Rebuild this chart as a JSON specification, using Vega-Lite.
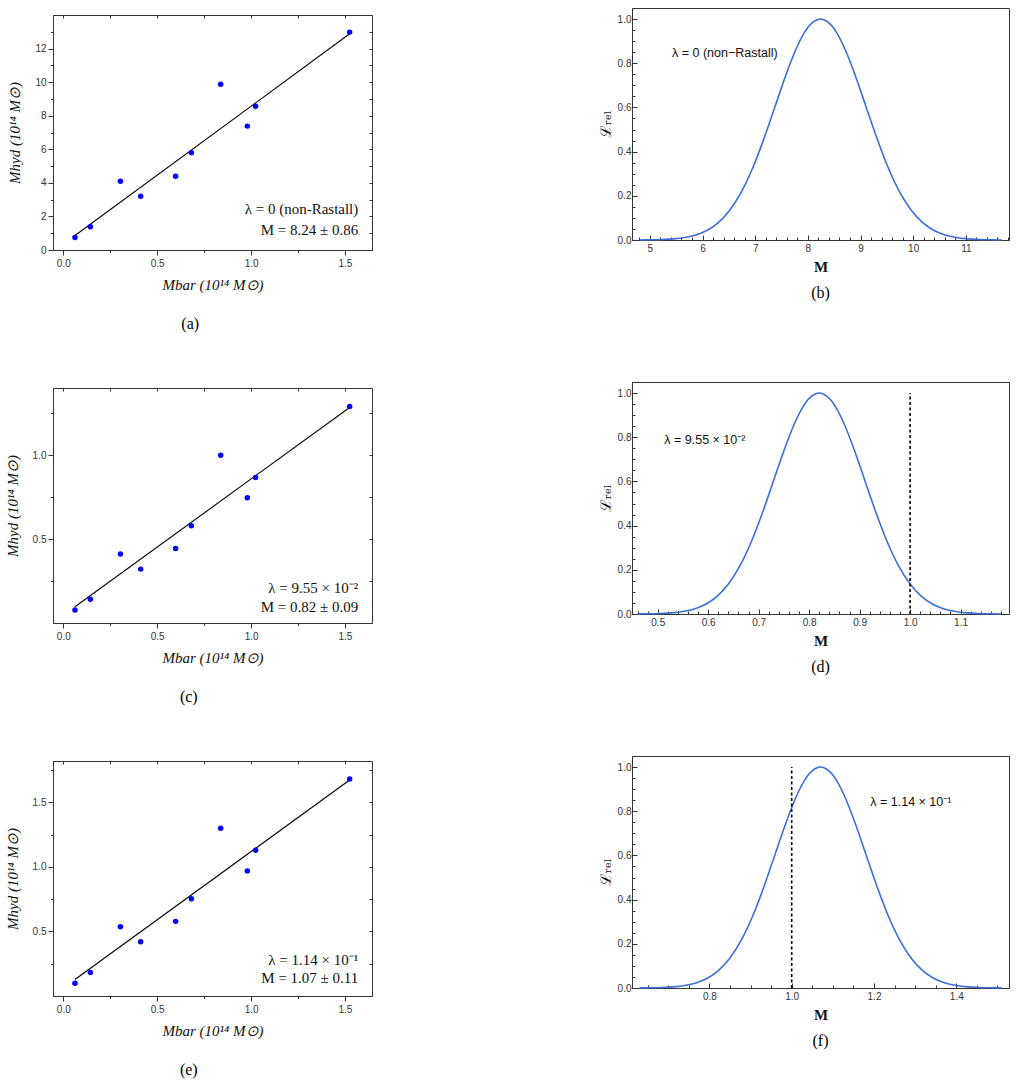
{
  "$schema": "https://vega.github.io/schema/vega-lite/v6.json",
  "background": "white",
  "padding": {"left": 4, "top": 7, "right": 2, "bottom": 0},
  "config": {
    "view": {"stroke": "#333", "strokeWidth": 1},
    "axis": {"grid": false, "labelFont": "Liberation Sans", "labelFontSize": 10, "labelColor": "#333", "domainColor": "#333", "tickColor": "#333", "labelOverlap": false, "titleColor": "#111"},
    "title": {"font": "Liberation Serif", "fontSize": 16, "fontWeight": "normal", "color": "#000"}
  },
  "datasets": {
    "clustersA": [
      {"mbar": 0.062, "mhyd": 0.74}, {"mbar": 0.144, "mhyd": 1.39}, {"mbar": 0.304, "mhyd": 4.09}, {"mbar": 0.412, "mhyd": 3.2}, {"mbar": 0.598, "mhyd": 4.39},
      {"mbar": 0.682, "mhyd": 5.8}, {"mbar": 0.838, "mhyd": 9.88}, {"mbar": 0.98, "mhyd": 7.38}, {"mbar": 1.024, "mhyd": 8.57}, {"mbar": 1.525, "mhyd": 12.98}
    ],
    "fitA": [{"mbar": 0.062, "mhyd": 0.86}, {"mbar": 1.525, "mhyd": 12.88}],
    "notesA": [{"mbar": 1.571, "mhyd": 2.46, "note": "λ = 0 (non-Rastall)"}, {"mbar": 1.571, "mhyd": 1.17, "note": "M = 8.24 ± 0.86"}],
    "clustersC": [
      {"mbar": 0.062, "mhyd": 0.077}, {"mbar": 0.144, "mhyd": 0.141}, {"mbar": 0.304, "mhyd": 0.411}, {"mbar": 0.412, "mhyd": 0.321}, {"mbar": 0.598, "mhyd": 0.444},
      {"mbar": 0.682, "mhyd": 0.579}, {"mbar": 0.838, "mhyd": 1.0}, {"mbar": 0.98, "mhyd": 0.746}, {"mbar": 1.024, "mhyd": 0.867}, {"mbar": 1.525, "mhyd": 1.29}
    ],
    "fitC": [{"mbar": 0.062, "mhyd": 0.097}, {"mbar": 1.525, "mhyd": 1.284}],
    "notesC": [{"mbar": 1.571, "mhyd": 0.206, "note": "λ = 9.55 × 10⁻²"}, {"mbar": 1.571, "mhyd": 0.097, "note": "M = 0.82 ± 0.09"}],
    "clustersE": [
      {"mbar": 0.062, "mhyd": 0.099}, {"mbar": 0.144, "mhyd": 0.182}, {"mbar": 0.304, "mhyd": 0.536}, {"mbar": 0.412, "mhyd": 0.42}, {"mbar": 0.598, "mhyd": 0.578},
      {"mbar": 0.682, "mhyd": 0.753}, {"mbar": 0.838, "mhyd": 1.299}, {"mbar": 0.98, "mhyd": 0.969}, {"mbar": 1.024, "mhyd": 1.129}, {"mbar": 1.525, "mhyd": 1.68}
    ],
    "fitE": [{"mbar": 0.062, "mhyd": 0.128}, {"mbar": 1.525, "mhyd": 1.673}],
    "notesE": [{"mbar": 1.571, "mhyd": 0.278, "note": "λ = 1.14 × 10⁻¹"}, {"mbar": 1.571, "mhyd": 0.136, "note": "M = 1.07 ± 0.11"}],
    "curveB": [
      {"m": 4.8, "L": 0.00034}, {"m": 5.015, "L": 0.00088}, {"m": 5.23, "L": 0.00219}, {"m": 5.445, "L": 0.00509}, {"m": 5.66, "L": 0.01111},
      {"m": 5.875, "L": 0.02279}, {"m": 6.09, "L": 0.04394}, {"m": 6.305, "L": 0.07956}, {"m": 6.52, "L": 0.13534}, {"m": 6.735, "L": 0.21627},
      {"m": 6.95, "L": 0.32465}, {"m": 7.165, "L": 0.45783}, {"m": 7.38, "L": 0.60653}, {"m": 7.595, "L": 0.75484}, {"m": 7.81, "L": 0.8825},
      {"m": 8.025, "L": 0.96923}, {"m": 8.24, "L": 1.0}, {"m": 8.455, "L": 0.96923}, {"m": 8.67, "L": 0.8825}, {"m": 8.885, "L": 0.75484},
      {"m": 9.1, "L": 0.60653}, {"m": 9.315, "L": 0.45783}, {"m": 9.53, "L": 0.32465}, {"m": 9.745, "L": 0.21627}, {"m": 9.96, "L": 0.13534},
      {"m": 10.175, "L": 0.07956}, {"m": 10.39, "L": 0.04394}, {"m": 10.605, "L": 0.02279}, {"m": 10.82, "L": 0.01111}, {"m": 11.035, "L": 0.00509},
      {"m": 11.25, "L": 0.00219}, {"m": 11.465, "L": 0.00088}, {"m": 11.68, "L": 0.00034}
    ],
    "notesB": [{"m": 5.42, "L": 0.847, "note": "λ = 0 (non−Rastall)"}],
    "curveD": [
      {"m": 0.46, "L": 0.00034}, {"m": 0.4825, "L": 0.00088}, {"m": 0.505, "L": 0.00219}, {"m": 0.5275, "L": 0.00509}, {"m": 0.55, "L": 0.01111},
      {"m": 0.5725, "L": 0.02279}, {"m": 0.595, "L": 0.04394}, {"m": 0.6175, "L": 0.07956}, {"m": 0.64, "L": 0.13534}, {"m": 0.6625, "L": 0.21627},
      {"m": 0.685, "L": 0.32465}, {"m": 0.7075, "L": 0.45783}, {"m": 0.73, "L": 0.60653}, {"m": 0.7525, "L": 0.75484}, {"m": 0.775, "L": 0.8825},
      {"m": 0.7975, "L": 0.96923}, {"m": 0.82, "L": 1.0}, {"m": 0.8425, "L": 0.96923}, {"m": 0.865, "L": 0.8825}, {"m": 0.8875, "L": 0.75484},
      {"m": 0.91, "L": 0.60653}, {"m": 0.9325, "L": 0.45783}, {"m": 0.955, "L": 0.32465}, {"m": 0.9775, "L": 0.21627}, {"m": 1.0, "L": 0.13534},
      {"m": 1.0225, "L": 0.07956}, {"m": 1.045, "L": 0.04394}, {"m": 1.0675, "L": 0.02279}, {"m": 1.09, "L": 0.01111}, {"m": 1.1125, "L": 0.00509},
      {"m": 1.135, "L": 0.00219}, {"m": 1.1575, "L": 0.00088}, {"m": 1.18, "L": 0.00034}
    ],
    "refD": [{"m": 1.0, "L0": 0, "L1": 1.0}],
    "notesD": [{"m": 0.513, "L": 0.788, "note": "λ = 9.55 × 10⁻²"}],
    "curveF": [
      {"m": 0.63, "L": 0.00034}, {"m": 0.6575, "L": 0.00088}, {"m": 0.685, "L": 0.00219}, {"m": 0.7125, "L": 0.00509}, {"m": 0.74, "L": 0.01111},
      {"m": 0.7675, "L": 0.02279}, {"m": 0.795, "L": 0.04394}, {"m": 0.8225, "L": 0.07956}, {"m": 0.85, "L": 0.13534}, {"m": 0.8775, "L": 0.21627},
      {"m": 0.905, "L": 0.32465}, {"m": 0.9325, "L": 0.45783}, {"m": 0.96, "L": 0.60653}, {"m": 0.9875, "L": 0.75484}, {"m": 1.015, "L": 0.8825},
      {"m": 1.0425, "L": 0.96923}, {"m": 1.07, "L": 1.0}, {"m": 1.0975, "L": 0.96923}, {"m": 1.125, "L": 0.8825}, {"m": 1.1525, "L": 0.75484},
      {"m": 1.18, "L": 0.60653}, {"m": 1.2075, "L": 0.45783}, {"m": 1.235, "L": 0.32465}, {"m": 1.2625, "L": 0.21627}, {"m": 1.29, "L": 0.13534},
      {"m": 1.3175, "L": 0.07956}, {"m": 1.345, "L": 0.04394}, {"m": 1.3725, "L": 0.02279}, {"m": 1.4, "L": 0.01111}, {"m": 1.4275, "L": 0.00509},
      {"m": 1.455, "L": 0.00219}, {"m": 1.4825, "L": 0.00088}, {"m": 1.51, "L": 0.00034}
    ],
    "refF": [{"m": 1.0, "L0": 0, "L1": 1.0}],
    "notesF": [{"m": 1.191, "L": 0.842, "note": "λ = 1.14 × 10⁻¹"}],
    "blank": []
  },
  "spacing": 224,
  "hconcat": [
    {
      "spacing": 0,
      "vconcat": [
        {
          "width": 319, "height": 6,
          "data": {"name": "blank"},
          "mark": {"type": "point"},
          "view": {"stroke": null}
        },
        {
          "spacing": 54,
          "vconcat": [
            {
              "width": 319, "height": 235,
              "title": {"text": "(a)", "orient": "bottom", "frame": "bounds", "anchor": "middle", "offset": 24},
              "layer": [
                {
                  "data": {"name": "fitA"},
                  "mark": {"type": "line", "color": "#000", "strokeWidth": 1.1},
                  "encoding": {
                    "x": {"field": "mbar", "type": "quantitative", "scale": {"domain": [-0.055, 1.644], "nice": false, "zero": false},
                      "axis": {"orient": "bottom", "values": [0, 0.25, 0.5, 0.75, 1, 1.25, 1.5], "tickCount": 200, "labelExpr": "datum.value % 0.5 === 0 ? format(datum.value, '.1f') : ''", "tickSize": {"condition": {"test": "datum.value % 0.5 === 0", "value": 5}, "value": 2.5}, "labelPadding": 3, "labelOverlap": false, "title": "Mbar (10¹⁴ M⊙)", "titleFont": "Liberation Serif", "titleFontSize": 15, "titleFontWeight": "normal", "titleFontStyle": "italic", "titlePadding": 9}},
                    "y": {"field": "mhyd", "type": "quantitative", "scale": {"domain": [0, 14], "nice": false},
                      "axis": {"orient": "left", "values": [0, 1, 2, 3, 4, 5, 6, 7, 8, 9, 10, 11, 12, 13], "tickCount": 200, "labelExpr": "datum.value % 2 === 0 ? format(datum.value, 'd') : ''", "tickSize": {"condition": {"test": "datum.value % 2 === 0", "value": 5}, "value": 2.5}, "labelPadding": 2, "labelOverlap": false, "title": "Mhyd (10¹⁴ M⊙)", "titleFont": "Liberation Serif", "titleFontSize": 15, "titleFontWeight": "normal", "titleFontStyle": "italic", "titlePadding": 12}}
                  }
                },
                {
                  "data": {"name": "clustersA"},
                  "mark": {"type": "circle", "size": 30, "color": "#0000ff", "opacity": 1},
                  "encoding": {
                    "x": {"field": "mbar", "type": "quantitative", "axis": {"orient": "top", "values": [0, 0.25, 0.5, 0.75, 1, 1.25, 1.5], "tickCount": 200, "labels": false, "tickSize": -3, "domain": false, "title": null}},
                    "y": {"field": "mhyd", "type": "quantitative", "axis": {"orient": "right", "values": [0, 1, 2, 3, 4, 5, 6, 7, 8, 9, 10, 11, 12, 13], "tickCount": 200, "labels": false, "tickSize": -3, "domain": false, "title": null}}
                  }
                },
                {
                  "data": {"name": "notesA"},
                  "mark": {"type": "text", "align": "right", "baseline": "middle", "font": "Liberation Serif", "fontSize": 15, "color": "#111"},
                  "encoding": {
                    "x": {"field": "mbar", "type": "quantitative", "axis": null},
                    "y": {"field": "mhyd", "type": "quantitative", "axis": null},
                    "text": {"field": "note"}
                  }
                }
              ],
              "resolve": {"axis": {"x": "independent", "y": "independent"}}
            },
            {
              "width": 319, "height": 235,
              "title": {"text": "(c)", "orient": "bottom", "frame": "bounds", "anchor": "middle", "offset": 24},
              "layer": [
                {
                  "data": {"name": "fitC"},
                  "mark": {"type": "line", "color": "#000", "strokeWidth": 1.1},
                  "encoding": {
                    "x": {"field": "mbar", "type": "quantitative", "scale": {"domain": [-0.055, 1.644], "nice": false, "zero": false},
                      "axis": {"orient": "bottom", "values": [0, 0.25, 0.5, 0.75, 1, 1.25, 1.5], "tickCount": 200, "labelExpr": "datum.value % 0.5 === 0 ? format(datum.value, '.1f') : ''", "tickSize": {"condition": {"test": "datum.value % 0.5 === 0", "value": 5}, "value": 2.5}, "labelPadding": 3, "labelOverlap": false, "title": "Mbar (10¹⁴ M⊙)", "titleFont": "Liberation Serif", "titleFontSize": 15, "titleFontWeight": "normal", "titleFontStyle": "italic", "titlePadding": 9}},
                    "y": {"field": "mhyd", "type": "quantitative", "scale": {"domain": [0, 1.4], "nice": false},
                      "axis": {"orient": "left", "values": [0.25, 0.5, 0.75, 1, 1.25], "tickCount": 200, "labelExpr": "datum.value % 0.5 === 0 ? format(datum.value, '.1f') : ''", "tickSize": {"condition": {"test": "datum.value % 0.5 === 0", "value": 5}, "value": 2.5}, "labelPadding": 2, "labelOverlap": false, "title": "Mhyd (10¹⁴ M⊙)", "titleFont": "Liberation Serif", "titleFontSize": 15, "titleFontWeight": "normal", "titleFontStyle": "italic", "titlePadding": 12}}
                  }
                },
                {
                  "data": {"name": "clustersC"},
                  "mark": {"type": "circle", "size": 30, "color": "#0000ff", "opacity": 1},
                  "encoding": {
                    "x": {"field": "mbar", "type": "quantitative", "axis": {"orient": "top", "values": [0, 0.25, 0.5, 0.75, 1, 1.25, 1.5], "tickCount": 200, "labels": false, "tickSize": -3, "domain": false, "title": null}},
                    "y": {"field": "mhyd", "type": "quantitative", "axis": {"orient": "right", "values": [0.25, 0.5, 0.75, 1, 1.25], "tickCount": 200, "labels": false, "tickSize": -3, "domain": false, "title": null}}
                  }
                },
                {
                  "data": {"name": "notesC"},
                  "mark": {"type": "text", "align": "right", "baseline": "middle", "font": "Liberation Serif", "fontSize": 15, "color": "#111"},
                  "encoding": {
                    "x": {"field": "mbar", "type": "quantitative", "axis": null},
                    "y": {"field": "mhyd", "type": "quantitative", "axis": null},
                    "text": {"field": "note"}
                  }
                }
              ],
              "resolve": {"axis": {"x": "independent", "y": "independent"}}
            },
            {
              "width": 319, "height": 235,
              "title": {"text": "(e)", "orient": "bottom", "frame": "bounds", "anchor": "middle", "offset": 24},
              "layer": [
                {
                  "data": {"name": "fitE"},
                  "mark": {"type": "line", "color": "#000", "strokeWidth": 1.1},
                  "encoding": {
                    "x": {"field": "mbar", "type": "quantitative", "scale": {"domain": [-0.055, 1.644], "nice": false, "zero": false},
                      "axis": {"orient": "bottom", "values": [0, 0.25, 0.5, 0.75, 1, 1.25, 1.5], "tickCount": 200, "labelExpr": "datum.value % 0.5 === 0 ? format(datum.value, '.1f') : ''", "tickSize": {"condition": {"test": "datum.value % 0.5 === 0", "value": 5}, "value": 2.5}, "labelPadding": 3, "labelOverlap": false, "title": "Mbar (10¹⁴ M⊙)", "titleFont": "Liberation Serif", "titleFontSize": 15, "titleFontWeight": "normal", "titleFontStyle": "italic", "titlePadding": 9}},
                    "y": {"field": "mhyd", "type": "quantitative", "scale": {"domain": [0, 1.82], "nice": false},
                      "axis": {"orient": "left", "values": [0.25, 0.5, 0.75, 1, 1.25, 1.5, 1.75], "tickCount": 200, "labelExpr": "datum.value % 0.5 === 0 ? format(datum.value, '.1f') : ''", "tickSize": {"condition": {"test": "datum.value % 0.5 === 0", "value": 5}, "value": 2.5}, "labelPadding": 2, "labelOverlap": false, "title": "Mhyd (10¹⁴ M⊙)", "titleFont": "Liberation Serif", "titleFontSize": 15, "titleFontWeight": "normal", "titleFontStyle": "italic", "titlePadding": 12}}
                  }
                },
                {
                  "data": {"name": "clustersE"},
                  "mark": {"type": "circle", "size": 30, "color": "#0000ff", "opacity": 1},
                  "encoding": {
                    "x": {"field": "mbar", "type": "quantitative", "axis": {"orient": "top", "values": [0, 0.25, 0.5, 0.75, 1, 1.25, 1.5], "tickCount": 200, "labels": false, "tickSize": -3, "domain": false, "title": null}},
                    "y": {"field": "mhyd", "type": "quantitative", "axis": {"orient": "right", "values": [0.25, 0.5, 0.75, 1, 1.25, 1.5, 1.75], "tickCount": 200, "labels": false, "tickSize": -3, "domain": false, "title": null}}
                  }
                },
                {
                  "data": {"name": "notesE"},
                  "mark": {"type": "text", "align": "right", "baseline": "middle", "font": "Liberation Serif", "fontSize": 15, "color": "#111"},
                  "encoding": {
                    "x": {"field": "mbar", "type": "quantitative", "axis": null},
                    "y": {"field": "mhyd", "type": "quantitative", "axis": null},
                    "text": {"field": "note"}
                  }
                }
              ],
              "resolve": {"axis": {"x": "independent", "y": "independent"}}
            }
          ]
        }
      ]
    },
    {
      "spacing": 79,
      "vconcat": [
        {
          "width": 377, "height": 232,
          "title": {"text": "(b)", "orient": "bottom", "frame": "group", "anchor": "middle", "offset": 11},
          "layer": [
            {
              "data": {"name": "curveB"},
              "mark": {"type": "line", "color": "#3b6fd6", "strokeWidth": 1.6, "interpolate": "monotone"},
              "encoding": {
                "x": {"field": "m", "type": "quantitative", "scale": {"domain": [4.66, 11.82], "nice": false, "zero": false},
                  "axis": {"orient": "bottom", "values": [4.8, 5, 5.2, 5.4, 5.6, 5.8, 6, 6.2, 6.4, 6.6, 6.8, 7, 7.2, 7.4, 7.6, 7.8, 8, 8.2, 8.4, 8.6, 8.8, 9, 9.2, 9.4, 9.6, 9.8, 10, 10.2, 10.4, 10.6, 10.8, 11, 11.2, 11.4, 11.6, 11.8], "tickCount": 200, "labelExpr": "abs(datum.value - round(datum.value)) < 0.000001 ? format(datum.value, 'd') : ''", "tickSize": {"condition": {"test": "abs(datum.value - round(datum.value)) < 0.000001", "value": -5}, "value": -3}, "labelPadding": 8, "labelOverlap": false, "title": "M", "titleFont": "Liberation Serif", "titleFontSize": 15, "titleFontWeight": "bold", "titlePadding": 4}},
                "y": {"field": "L", "type": "quantitative", "scale": {"domain": [0, 1.05], "nice": false},
                  "axis": {"orient": "left", "values": [0, 0.05, 0.1, 0.15, 0.2, 0.25, 0.3, 0.35, 0.4, 0.45, 0.5, 0.55, 0.6, 0.65, 0.7, 0.75, 0.8, 0.85, 0.9, 0.95, 1], "tickCount": 200, "labelExpr": "abs(datum.value * 5 - round(datum.value * 5)) < 0.000001 ? format(datum.value, '.1f') : ''", "tickSize": {"condition": {"test": "abs(datum.value * 5 - round(datum.value * 5)) < 0.000001", "value": -5}, "value": -3}, "labelPadding": 6, "labelOverlap": false, "title": "ℒᵣₑₗ", "titleFont": "DejaVu Serif", "titleFontSize": 15, "titleFontWeight": "normal", "titlePadding": 4}}
              }
            },
            {
              "data": {"name": "notesB"},
              "mark": {"type": "text", "align": "left", "baseline": "middle", "font": "Liberation Sans", "fontSize": 12.5, "color": "#111"},
              "encoding": {
                "x": {"field": "m", "type": "quantitative"},
                "y": {"field": "L", "type": "quantitative"},
                "text": {"field": "note"}
              }
            }
          ]
        },
        {
          "width": 377, "height": 232,
          "title": {"text": "(d)", "orient": "bottom", "frame": "group", "anchor": "middle", "offset": 11},
          "layer": [
            {
              "data": {"name": "curveD"},
              "mark": {"type": "line", "color": "#3b6fd6", "strokeWidth": 1.6, "interpolate": "monotone"},
              "encoding": {
                "x": {"field": "m", "type": "quantitative", "scale": {"domain": [0.449, 1.196], "nice": false, "zero": false},
                  "axis": {"orient": "bottom", "values": [0.46, 0.48, 0.5, 0.52, 0.54, 0.56, 0.58, 0.6, 0.62, 0.64, 0.66, 0.68, 0.7, 0.72, 0.74, 0.76, 0.78, 0.8, 0.82, 0.84, 0.86, 0.88, 0.9, 0.92, 0.94, 0.96, 0.98, 1, 1.02, 1.04, 1.06, 1.08, 1.1, 1.12, 1.14, 1.16, 1.18], "tickCount": 200, "labelExpr": "abs(datum.value * 10 - round(datum.value * 10)) < 0.000001 ? format(datum.value, '.1f') : ''", "tickSize": {"condition": {"test": "abs(datum.value * 10 - round(datum.value * 10)) < 0.000001", "value": -5}, "value": -3}, "labelPadding": 8, "labelOverlap": false, "title": "M", "titleFont": "Liberation Serif", "titleFontSize": 15, "titleFontWeight": "bold", "titlePadding": 4}},
                "y": {"field": "L", "type": "quantitative", "scale": {"domain": [0, 1.05], "nice": false},
                  "axis": {"orient": "left", "values": [0, 0.05, 0.1, 0.15, 0.2, 0.25, 0.3, 0.35, 0.4, 0.45, 0.5, 0.55, 0.6, 0.65, 0.7, 0.75, 0.8, 0.85, 0.9, 0.95, 1], "tickCount": 200, "labelExpr": "abs(datum.value * 5 - round(datum.value * 5)) < 0.000001 ? format(datum.value, '.1f') : ''", "tickSize": {"condition": {"test": "abs(datum.value * 5 - round(datum.value * 5)) < 0.000001", "value": -5}, "value": -3}, "labelPadding": 6, "labelOverlap": false, "title": "ℒᵣₑₗ", "titleFont": "DejaVu Serif", "titleFontSize": 15, "titleFontWeight": "normal", "titlePadding": 4}}
              }
            },
            {
              "data": {"name": "refD"},
              "mark": {"type": "rule", "color": "#000", "strokeWidth": 1.6, "strokeDash": [3, 2.5]},
              "encoding": {
                "x": {"field": "m", "type": "quantitative"},
                "y": {"field": "L0", "type": "quantitative"},
                "y2": {"field": "L1"}
              }
            },
            {
              "data": {"name": "notesD"},
              "mark": {"type": "text", "align": "left", "baseline": "middle", "font": "Liberation Sans", "fontSize": 12.5, "color": "#111"},
              "encoding": {
                "x": {"field": "m", "type": "quantitative"},
                "y": {"field": "L", "type": "quantitative"},
                "text": {"field": "note"}
              }
            }
          ]
        },
        {
          "width": 377, "height": 232,
          "title": {"text": "(f)", "orient": "bottom", "frame": "group", "anchor": "middle", "offset": 11},
          "layer": [
            {
              "data": {"name": "curveF"},
              "mark": {"type": "line", "color": "#3b6fd6", "strokeWidth": 1.6, "interpolate": "monotone"},
              "encoding": {
                "x": {"field": "m", "type": "quantitative", "scale": {"domain": [0.612, 1.528], "nice": false, "zero": false},
                  "axis": {"orient": "bottom", "values": [0.65, 0.7, 0.75, 0.8, 0.85, 0.9, 0.95, 1, 1.05, 1.1, 1.15, 1.2, 1.25, 1.3, 1.35, 1.4, 1.45, 1.5], "tickCount": 200, "labelExpr": "abs(datum.value * 5 - round(datum.value * 5)) < 0.000001 ? format(datum.value, '.1f') : ''", "tickSize": {"condition": {"test": "abs(datum.value * 5 - round(datum.value * 5)) < 0.000001", "value": -5}, "value": -3}, "labelPadding": 8, "labelOverlap": false, "title": "M", "titleFont": "Liberation Serif", "titleFontSize": 15, "titleFontWeight": "bold", "titlePadding": 4}},
                "y": {"field": "L", "type": "quantitative", "scale": {"domain": [0, 1.05], "nice": false},
                  "axis": {"orient": "left", "values": [0, 0.05, 0.1, 0.15, 0.2, 0.25, 0.3, 0.35, 0.4, 0.45, 0.5, 0.55, 0.6, 0.65, 0.7, 0.75, 0.8, 0.85, 0.9, 0.95, 1], "tickCount": 200, "labelExpr": "abs(datum.value * 5 - round(datum.value * 5)) < 0.000001 ? format(datum.value, '.1f') : ''", "tickSize": {"condition": {"test": "abs(datum.value * 5 - round(datum.value * 5)) < 0.000001", "value": -5}, "value": -3}, "labelPadding": 6, "labelOverlap": false, "title": "ℒᵣₑₗ", "titleFont": "DejaVu Serif", "titleFontSize": 15, "titleFontWeight": "normal", "titlePadding": 4}}
              }
            },
            {
              "data": {"name": "refF"},
              "mark": {"type": "rule", "color": "#000", "strokeWidth": 1.6, "strokeDash": [3, 2.5]},
              "encoding": {
                "x": {"field": "m", "type": "quantitative"},
                "y": {"field": "L0", "type": "quantitative"},
                "y2": {"field": "L1"}
              }
            },
            {
              "data": {"name": "notesF"},
              "mark": {"type": "text", "align": "left", "baseline": "middle", "font": "Liberation Sans", "fontSize": 12.5, "color": "#111"},
              "encoding": {
                "x": {"field": "m", "type": "quantitative"},
                "y": {"field": "L", "type": "quantitative"},
                "text": {"field": "note"}
              }
            }
          ]
        }
      ]
    }
  ]
}
